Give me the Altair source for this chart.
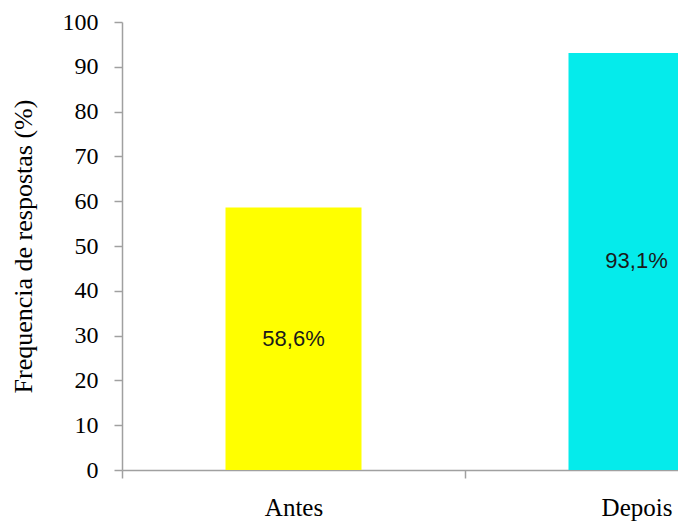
import altair as alt
import pandas as pd

categories = ["Antes", "Depois"]
values = [58.6, 93.1]
labels = ["58,6%", "93,1%"]
colors = ["#FFFF00", "#05EBEB"]

df = pd.DataFrame({"cat": categories, "val": values, "lab": labels, "col": colors})
df["mid"] = df["val"] / 2

xscale = alt.Scale(range=[0, 686], paddingInner=0, paddingOuter=0)
yscale = alt.Scale(domain=[0, 100], nice=False)

xaxis = alt.Axis(
    title=None,
    labelAngle=0,
    labelFont="Liberation Serif",
    labelFontSize=25,
    labelColor="black",
    labelPadding=17,
    domainColor="#A0A0A0",
    domainWidth=1.5,
    tickColor="#A0A0A0",
    tickWidth=1.5,
    tickSize=8,
    tickBand="extent",
    grid=False,
)

yaxis = alt.Axis(
    title="Frequencia de respostas (%)",
    titleFont="Liberation Serif",
    titleFontSize=26,
    titleFontWeight="normal",
    titleColor="black",
    titlePadding=26,
    values=list(range(0, 101, 10)),
    labelFont="Liberation Serif",
    labelFontSize=24,
    labelColor="black",
    labelPadding=16,
    domainColor="#A0A0A0",
    domainWidth=1.5,
    tickColor="#A0A0A0",
    tickWidth=1.5,
    tickSize=8,
    grid=False,
)

bars = alt.Chart(df).mark_bar(clip=True, width=alt.RelativeBandSize(0.3965)).encode(
    x=alt.X("cat:N", sort=categories, scale=xscale, axis=xaxis),
    y=alt.Y("val:Q", scale=yscale, axis=yaxis),
    color=alt.Color("col:N", scale=None),
)

text = alt.Chart(df).mark_text(
    font="Liberation Sans", fontSize=22, color="#1a1a1a", baseline="middle", align="center"
).encode(
    x=alt.X("cat:N", sort=categories, scale=xscale, axis=xaxis),
    y=alt.Y("mid:Q", scale=yscale, axis=yaxis),
    text="lab:N",
)

chart = (
    alt.layer(bars, text)
    .properties(
        width=556,
        height=448,
        autosize=alt.AutoSizeParams(type="none"),
        padding={"left": 122, "top": 22, "right": 0, "bottom": 51},
    )
    .configure(background="white")
    .configure_view(strokeWidth=0, stroke="transparent")
    .configure_axis(grid=False)
)

chart.save("out.html", embed_options={"renderer": "svg", "actions": False})
